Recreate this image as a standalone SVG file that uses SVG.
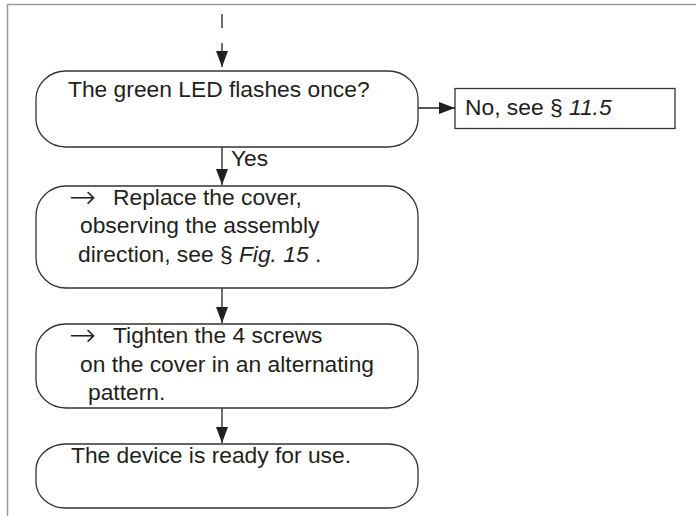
<svg xmlns="http://www.w3.org/2000/svg" width="696" height="516" viewBox="0 0 696 516">
  <defs>
    <style>
      .frame { fill: none; stroke: #9a9a9a; stroke-width: 1.5; }
      .node { fill: #ffffff; stroke: #333333; stroke-width: 1.3; }
      .link { fill: none; stroke: #231f20; stroke-width: 1.3; }
      .label { font-family: "Liberation Sans", Arial, sans-serif; font-size: 22.8px; fill: #231f20; }
      .it { font-style: italic; }
      .bullet { font-family: "DejaVu Sans", sans-serif; font-size: 32px; font-weight: 200; fill: #231f20; }
    </style>
    <marker id="arrow" viewBox="0 0 16 12" refX="16" refY="6" markerWidth="16" markerHeight="12" markerUnits="userSpaceOnUse" orient="auto">
      <path d="M0,0 L16,6 L0,12 Z" fill="#231f20"/>
    </marker>
  </defs>

  <rect width="696" height="516" fill="#ffffff"/>

  <!-- page frame: top and left rule -->
  <path class="frame" d="M7.5,516 V4.5 H696"/>

  <g id="connectors">
    <line class="link" x1="222" y1="14" x2="222" y2="28"/>
    <line class="link" x1="222" y1="43" x2="222" y2="67" marker-end="url(#arrow)"/>
    <line class="link" x1="418" y1="108" x2="455" y2="108" marker-end="url(#arrow)"/>
    <line class="link" x1="222" y1="147" x2="222" y2="185" marker-end="url(#arrow)"/>
    <text class="label" x="231" y="166">Yes</text>
    <line class="link" x1="222" y1="288" x2="222" y2="323" marker-end="url(#arrow)"/>
    <line class="link" x1="222" y1="408" x2="222" y2="443" marker-end="url(#arrow)"/>
  </g>

  <g id="check-led">
    <rect class="node" x="36" y="71" width="382" height="76" rx="30" ry="28"/>
    <text class="label" x="68" y="97">The green LED flashes once?</text>
  </g>

  <g id="see-11-5">
    <rect class="node" x="455" y="88.5" width="220" height="40"/>
    <text class="label" x="465" y="115">No, see § <tspan class="it">11.5</tspan></text>
  </g>

  <g id="replace-cover">
    <rect class="node" x="36" y="186" width="382" height="102" rx="30" ry="30"/>
    <text class="bullet" x="69" y="208">→</text>
    <text class="label" x="113" y="205">Replace the cover,</text>
    <text class="label" x="80" y="233">observing the assembly</text>
    <text class="label" x="78" y="262">direction, see § <tspan class="it">Fig. 15</tspan> .</text>
  </g>

  <g id="tighten-screws">
    <rect class="node" x="36" y="324" width="382" height="84" rx="30" ry="28"/>
    <text class="bullet" x="69" y="346">→</text>
    <text class="label" x="113" y="343">Tighten the 4 screws</text>
    <text class="label" x="80" y="372">on the cover in an alternating</text>
    <text class="label" x="88" y="400">pattern.</text>
  </g>

  <g id="ready">
    <rect class="node" x="36" y="444" width="382" height="64" rx="30" ry="26"/>
    <text class="label" x="71" y="463">The device is ready for use.</text>
  </g>
</svg>
